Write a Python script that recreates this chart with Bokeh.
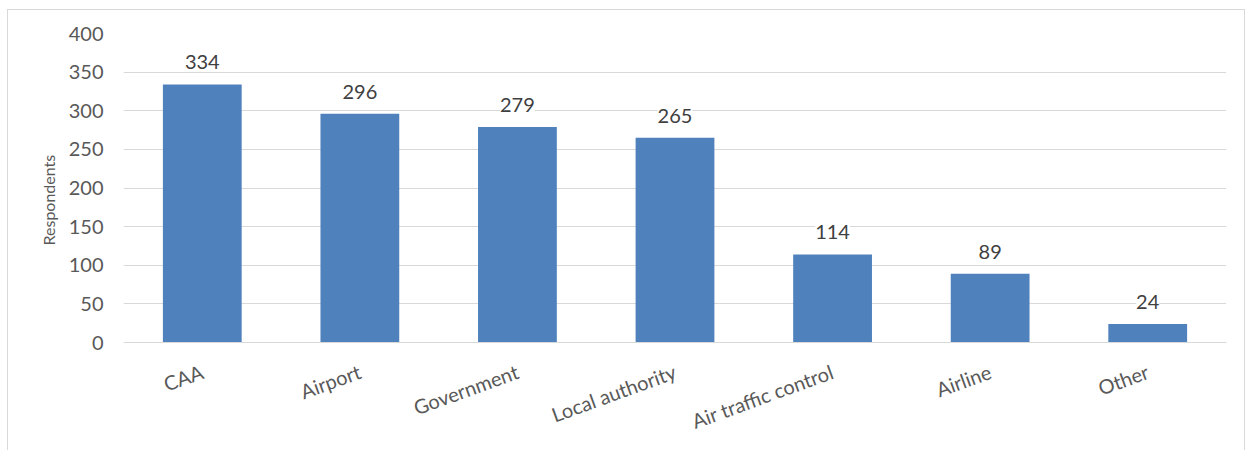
from bokeh.plotting import figure
from bokeh.models import ColumnDataSource, LabelSet, Title, FixedTicker, Range1d
from bokeh.core.properties import value
from bokeh.embed import file_html
from bokeh.resources import INLINE
import math

categories = ["CAA", "Airport", "Government", "Local authority", "Air traffic control", "Airline", "Other"]
respondents = [334, 296, 279, 265, 114, 89, 24]
y_ticks = [0, 50, 100, 150, 200, 250, 300, 350, 400]

FONT = "Lato"
TXT = "#595959"

src = ColumnDataSource(dict(cat=categories, val=respondents, lab=[str(v) for v in respondents]))

p = figure(x_range=categories, y_range=Range1d(0, 400), width=1238, height=441,
           output_backend="svg", toolbar_location=None,
           min_border_left=115, min_border_right=20, min_border_top=23, min_border_bottom=109)
p.styles = {"border": "1px solid #D9D9D9", "border-bottom": "none",
            "margin-left": "7px", "margin-top": "9px"}

p.vbar(x="cat", top="val", width=0.5, source=src, color="#4F81BD", line_color=None)

labels = LabelSet(x="cat", y="val", text="lab", source=src, text_align="center",
                  text_baseline="middle", y_offset=22, text_font=value(FONT), text_font_size="20px",
                  text_color="#404040", background_fill_color="white",
                  border_line_color=None)
p.add_layout(labels)

p.outline_line_color = None
p.xgrid.grid_line_color = None
p.ygrid.grid_line_color = "#D9D9D9"
p.ygrid.grid_line_width = 1
p.yaxis.ticker = FixedTicker(ticks=y_ticks)
p.yaxis.axis_line_color = None
p.yaxis.major_tick_line_color = None
p.yaxis.minor_tick_line_color = None
p.yaxis.major_label_text_font = FONT
p.yaxis.major_label_text_font_size = "20px"
p.yaxis.major_label_text_color = TXT
p.yaxis.major_label_standoff = 14

ytitle = Title(text="Respondents", align="left", offset=97, text_font=FONT,
               text_font_size="16px", text_font_style="normal", text_color=TXT, standoff=16)
p.add_layout(ytitle, "left")

p.xaxis.axis_line_color = "#D9D9D9"
p.xaxis.major_tick_line_color = None
p.xaxis.minor_tick_line_color = None
p.xaxis.major_label_orientation = math.radians(20)
p.xaxis.major_label_text_font = FONT
p.xaxis.major_label_text_font_size = "20px"
p.xaxis.major_label_text_color = TXT
p.xaxis.major_label_standoff = 22

p.x_range.range_padding = 0.0

open("out.html", "w").write(file_html(p, INLINE))
